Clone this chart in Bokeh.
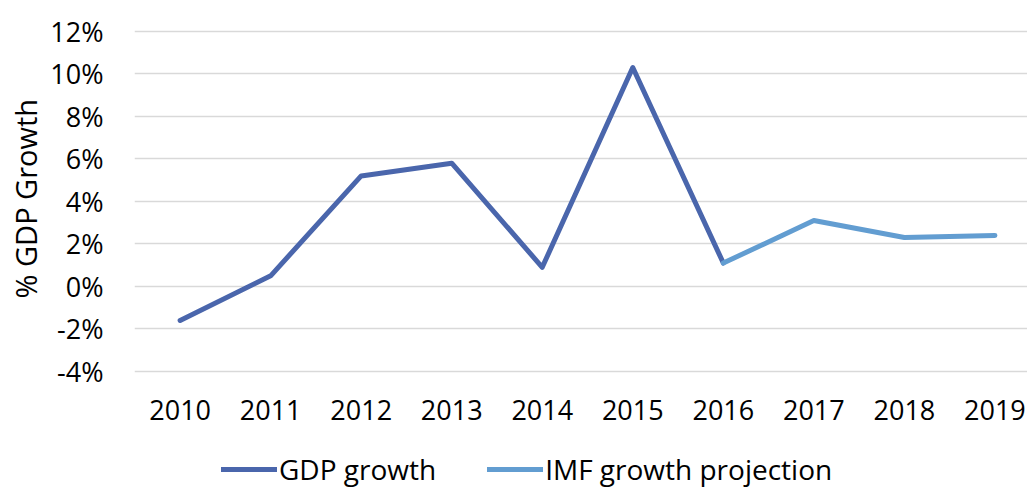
from bokeh.plotting import figure
from bokeh.models import Range1d, FixedTicker, PrintfTickFormatter, Legend, LegendItem, Title
from bokeh.embed import file_html
from bokeh.resources import INLINE

years = ["2010", "2011", "2012", "2013", "2014", "2015", "2016", "2017", "2018", "2019"]
gdp_years = ["2010", "2011", "2012", "2013", "2014", "2015", "2016"]
gdp_growth = [-1.6, 0.5, 5.2, 5.8, 0.9, 10.3, 1.1]
imf_years = ["2016", "2017", "2018", "2019"]
imf_projection = [1.1, 3.1, 2.3, 2.4]
y_ticks = [-4, -2, 0, 2, 4, 6, 8, 10, 12]

FONT = "Open Sans"
FS = "27px"

idx = {y: i for i, y in enumerate(years)}
gdp_x = [idx[y] for y in gdp_years]
imf_x = [idx[y] for y in imf_years]

p = figure(width=1027, height=488, output_backend="svg", toolbar_location=None,
           x_range=Range1d(-0.504, 9.36), y_range=Range1d(-9.51, 12.28),
           min_border_left=127, min_border_right=0, min_border_top=25, min_border_bottom=0)
p.outline_line_color = None
p.background_fill_color = "white"
p.border_fill_color = "white"

r1 = p.line(gdp_x, gdp_growth, line_color="#4A66AC", line_width=5, line_cap="round", line_join="round")
r2 = p.line(imf_x, imf_projection, line_color="#629DD1", line_width=5, line_cap="round", line_join="round")

p.xgrid.grid_line_color = None
p.ygrid.grid_line_color = "#D9D9D9"
p.ygrid.grid_line_width = 1.5

p.xaxis.ticker = FixedTicker(ticks=list(range(len(years))))
p.xaxis.major_label_overrides = {i: y for i, y in enumerate(years)}
p.xaxis.fixed_location = -4.3
p.yaxis.ticker = FixedTicker(ticks=y_ticks)
p.yaxis.formatter = PrintfTickFormatter(format="%d%%")

for ax in (p.xaxis, p.yaxis):
    ax.axis_line_color = None
    ax.major_tick_line_color = None
    ax.minor_tick_line_color = None
    ax.major_tick_out = 0
    ax.major_tick_in = 0
    ax.major_label_text_font = FONT
    ax.major_label_text_font_size = FS
    ax.major_label_text_color = "black"

p.xaxis.major_label_standoff = 22
p.yaxis.major_label_standoff = 31

ytitle = Title(text="% GDP Growth", align="left", offset=190, standoff=6,
               text_font=FONT, text_font_size="29px", text_font_style="normal",
               text_color="black")
p.add_layout(ytitle, "left")

legend = Legend(items=[LegendItem(label="GDP growth", renderers=[r1]),
                       LegendItem(label="IMF growth projection", renderers=[r2])],
                orientation="horizontal", location=(87, 0),
                padding=0, margin=0, spacing=51, glyph_width=56, glyph_height=20,
                label_standoff=2, label_text_font=FONT, label_text_font_size="28px",
                label_text_color="black", border_line_color=None,
                background_fill_alpha=0)
p.add_layout(legend, "center")

open("out.html", "w").write(file_html(p, INLINE))
